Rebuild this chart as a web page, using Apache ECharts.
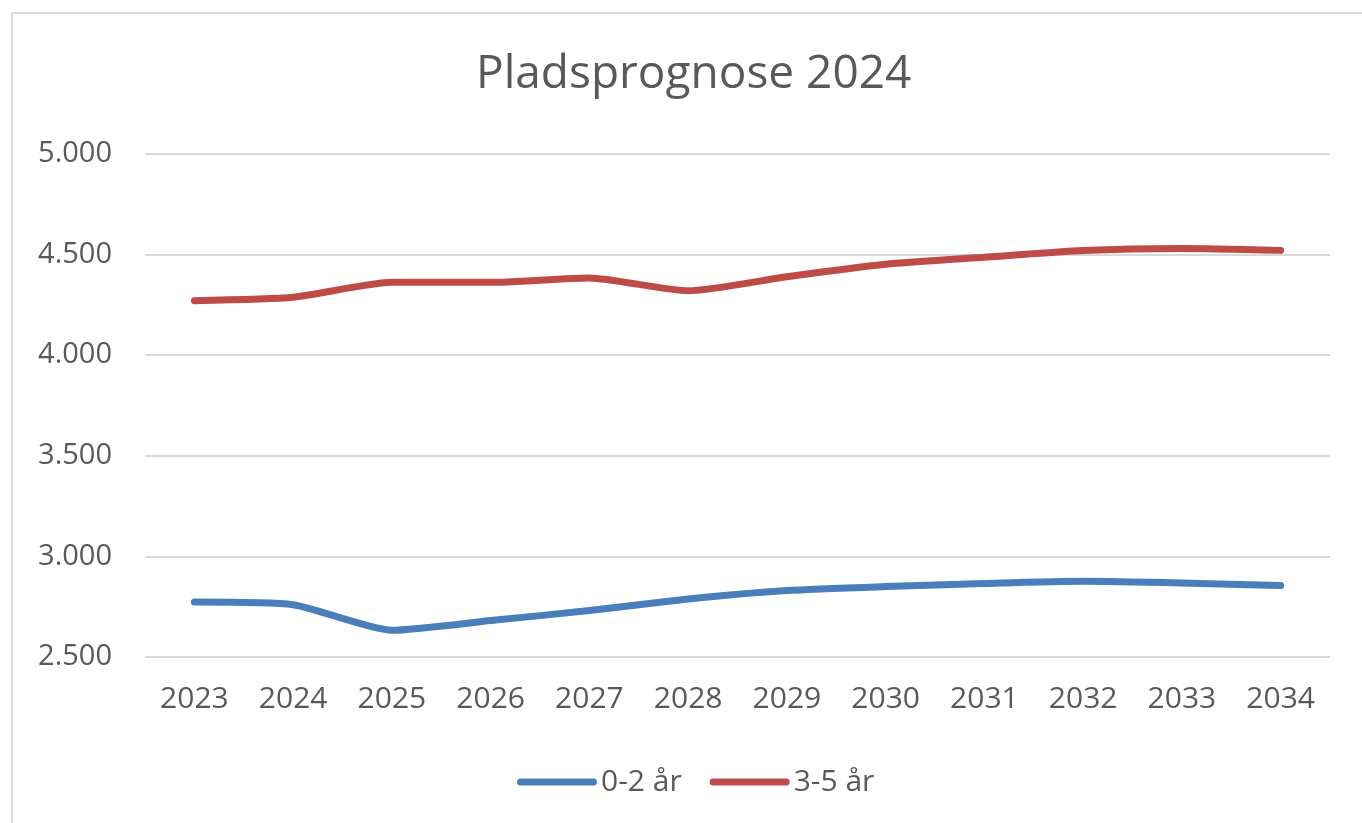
<!DOCTYPE html>
<html>
<head>
<meta charset="utf-8">
<script src="https://cdn.jsdelivr.net/npm/echarts@6/dist/echarts.min.js"></script>
<style>
  html, body { margin: 0; padding: 0; background: #fff; }
  #chart { width: 1362px; height: 823px; }
</style>
</head>
<body>
<div id="chart"></div>
<script>
// data
const years = ["2023", "2024", "2025", "2026", "2027", "2028", "2029", "2030", "2031", "2032", "2033", "2034"];
const age0to2 = [2773, 2760, 2633, 2681, 2731, 2788, 2830, 2850, 2865, 2876, 2868, 2855];
const age3to5 = [4271, 4288, 4362, 4362, 4384, 4320, 4390, 4452, 4487, 4520, 4530, 4521];
const yTicks = { min: 2500, max: 5000, interval: 500 };

const FONT = "Open Sans";
const TXT = "#595959";
const GRIDC = "#d9d9d9";

function fmtDa(v) {
  return String(v).replace(/\B(?=(\d{3})+(?!\d))/g, ".");
}

const legendIcon = "path://M3.5,0 H76.5 A3.5,3.5 0 0 1 76.5,7 H3.5 A3.5,3.5 0 0 1 3.5,0 Z";

const chart = echarts.init(document.getElementById("chart"), null, { renderer: "canvas" });

const option = {
  backgroundColor: "#fff",
  animation: false,
  graphic: [
    {
      type: "rect",
      shape: { x: 12, y: 13, width: 1400, height: 900 },
      style: { fill: "none", stroke: GRIDC, lineWidth: 2 },
      silent: true,
    },
  ],
  title: {
    text: "Pladsprognose 2024",
    left: 476,
    top: 52,
    padding: 0,
    textStyle: { fontFamily: FONT, fontSize: 46, fontWeight: "normal", color: TXT },
  },
  legend: {
    bottom: 26,
    left: 517,
    padding: 0,
    itemWidth: 80,
    itemHeight: 7,
    itemGap: 28,
    data: [
      { name: "0-2 år", icon: legendIcon },
      { name: "3-5 år", icon: legendIcon },
    ],
    textStyle: { fontFamily: FONT, fontSize: 30, color: TXT, padding: [0, 0, 0, -1] },
  },
  grid: { left: 145, right: 32, top: 154, bottom: 166 },
  xAxis: {
    type: "category",
    data: years,
    boundaryGap: true,
    axisLine: { show: false },
    axisTick: { show: false },
    axisLabel: { fontFamily: FONT, fontSize: 30, color: TXT, margin: 27 },
  },
  yAxis: {
    type: "value",
    min: yTicks.min,
    max: yTicks.max,
    interval: yTicks.interval,
    axisLine: { show: false },
    axisTick: { show: false },
    splitLine: { lineStyle: { color: GRIDC, width: 2 } },
    axisLabel: { fontFamily: FONT, fontSize: 29, color: TXT, margin: 33, formatter: fmtDa },
  },
  series: [
    {
      name: "0-2 år",
      type: "line",
      data: age0to2,
      smooth: 0.2,
      showSymbol: false,
      color: "#4a7ebb",
      lineStyle: { width: 7, cap: "round", join: "round" },
    },
    {
      name: "3-5 år",
      type: "line",
      data: age3to5,
      smooth: 0.2,
      showSymbol: false,
      color: "#be4b48",
      lineStyle: { width: 7, cap: "round", join: "round" },
    },
  ],
};

chart.setOption(option);
window.addEventListener("resize", function () {
  chart.resize();
});
</script>
</body>
</html>
